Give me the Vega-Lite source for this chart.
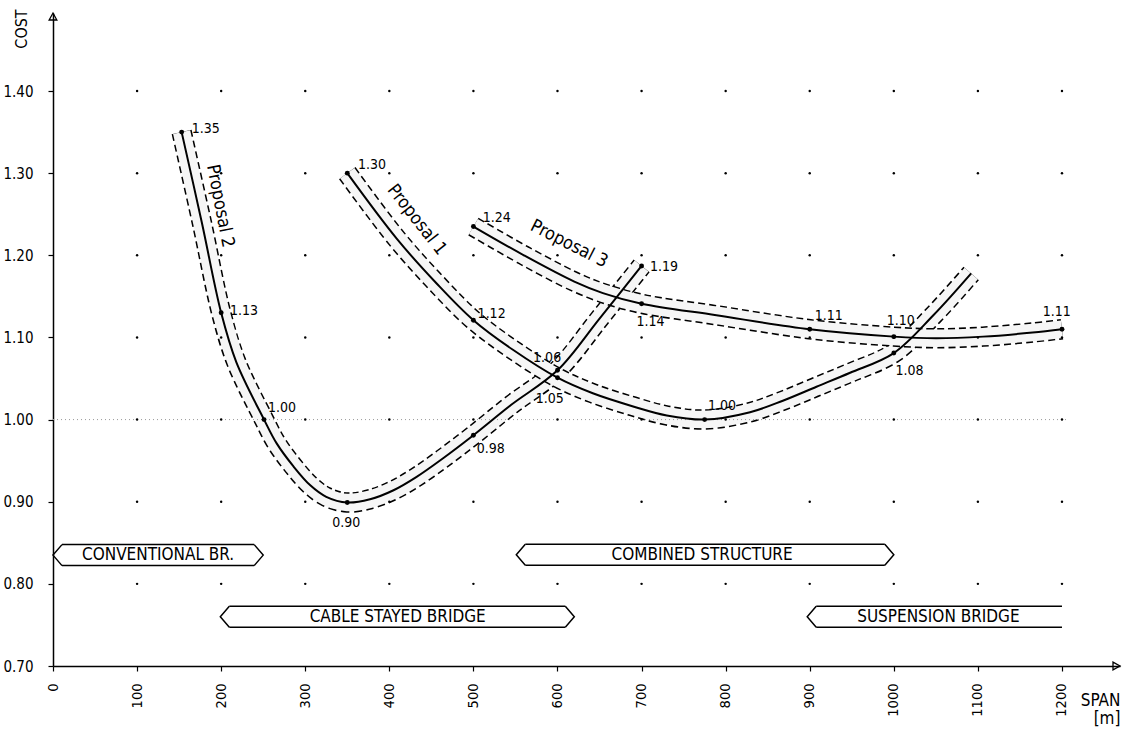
{
  "$schema": "https://vega.github.io/schema/vega-lite/v6.json",
  "width": 1067,
  "height": 653,
  "autosize": {"type": "none"},
  "padding": {"left": 53, "top": 13, "right": 7, "bottom": 65},
  "background": "white",
  "config": {
    "view": {"stroke": null},
    "font": "DejaVu Sans Condensed, Liberation Sans Narrow, sans-serif"
  },
  "datasets": {
    "curves": [
      {"p": "P2", "x": 153, "y": 1.35, "dot": 1},
      {"p": "P2", "x": 177, "y": 1.24, "dot": 0},
      {"p": "P2", "x": 200, "y": 1.13, "dot": 1},
      {"p": "P2", "x": 218, "y": 1.07, "dot": 0},
      {"p": "P2", "x": 251, "y": 1.0, "dot": 1},
      {"p": "P2", "x": 266, "y": 0.971, "dot": 0},
      {"p": "P2", "x": 286, "y": 0.943, "dot": 0},
      {"p": "P2", "x": 306, "y": 0.92, "dot": 0},
      {"p": "P2", "x": 325, "y": 0.906, "dot": 0},
      {"p": "P2", "x": 350, "y": 0.899, "dot": 1},
      {"p": "P2", "x": 377, "y": 0.903, "dot": 0},
      {"p": "P2", "x": 405, "y": 0.914, "dot": 0},
      {"p": "P2", "x": 432, "y": 0.93, "dot": 0},
      {"p": "P2", "x": 464, "y": 0.953, "dot": 0},
      {"p": "P2", "x": 500, "y": 0.981, "dot": 1},
      {"p": "P2", "x": 545, "y": 1.018, "dot": 0},
      {"p": "P2", "x": 600, "y": 1.06, "dot": 1},
      {"p": "P2", "x": 650, "y": 1.123, "dot": 0},
      {"p": "P2", "x": 700, "y": 1.187, "dot": 1},
      {"p": "P1", "x": 350, "y": 1.3, "dot": 1},
      {"p": "P1", "x": 409, "y": 1.22, "dot": 0},
      {"p": "P1", "x": 456, "y": 1.166, "dot": 0},
      {"p": "P1", "x": 500, "y": 1.121, "dot": 1},
      {"p": "P1", "x": 547, "y": 1.085, "dot": 0},
      {"p": "P1", "x": 600, "y": 1.051, "dot": 1},
      {"p": "P1", "x": 642, "y": 1.032, "dot": 0},
      {"p": "P1", "x": 690, "y": 1.016, "dot": 0},
      {"p": "P1", "x": 730, "y": 1.005, "dot": 0},
      {"p": "P1", "x": 775, "y": 1.0, "dot": 1},
      {"p": "P1", "x": 829, "y": 1.009, "dot": 0},
      {"p": "P1", "x": 868, "y": 1.023, "dot": 0},
      {"p": "P1", "x": 908, "y": 1.04, "dot": 0},
      {"p": "P1", "x": 948, "y": 1.057, "dot": 0},
      {"p": "P1", "x": 1000, "y": 1.081, "dot": 1},
      {"p": "P1", "x": 1047, "y": 1.127, "dot": 0},
      {"p": "P1", "x": 1092, "y": 1.178, "dot": 0},
      {"p": "P3", "x": 500, "y": 1.235, "dot": 1},
      {"p": "P3", "x": 560, "y": 1.2, "dot": 0},
      {"p": "P3", "x": 620, "y": 1.168, "dot": 0},
      {"p": "P3", "x": 654, "y": 1.154, "dot": 0},
      {"p": "P3", "x": 700, "y": 1.141, "dot": 1},
      {"p": "P3", "x": 789, "y": 1.127, "dot": 0},
      {"p": "P3", "x": 900, "y": 1.11, "dot": 1},
      {"p": "P3", "x": 1000, "y": 1.101, "dot": 1},
      {"p": "P3", "x": 1050, "y": 1.099, "dot": 0},
      {"p": "P3", "x": 1106, "y": 1.101, "dot": 0},
      {"p": "P3", "x": 1165, "y": 1.106, "dot": 0},
      {"p": "P3", "x": 1200, "y": 1.11, "dot": 1}
    ],
    "grid": [
      {"x": 100, "y": 0.8}, {"x": 100, "y": 0.9}, {"x": 100, "y": 1.0}, {"x": 100, "y": 1.1}, {"x": 100, "y": 1.2}, {"x": 100, "y": 1.3}, {"x": 100, "y": 1.4},
      {"x": 200, "y": 0.8}, {"x": 200, "y": 0.9}, {"x": 200, "y": 1.0}, {"x": 200, "y": 1.1}, {"x": 200, "y": 1.2}, {"x": 200, "y": 1.3}, {"x": 200, "y": 1.4},
      {"x": 300, "y": 0.8}, {"x": 300, "y": 0.9}, {"x": 300, "y": 1.0}, {"x": 300, "y": 1.1}, {"x": 300, "y": 1.2}, {"x": 300, "y": 1.3}, {"x": 300, "y": 1.4},
      {"x": 400, "y": 0.8}, {"x": 400, "y": 0.9}, {"x": 400, "y": 1.0}, {"x": 400, "y": 1.1}, {"x": 400, "y": 1.2}, {"x": 400, "y": 1.3}, {"x": 400, "y": 1.4},
      {"x": 500, "y": 0.8}, {"x": 500, "y": 0.9}, {"x": 500, "y": 1.0}, {"x": 500, "y": 1.1}, {"x": 500, "y": 1.2}, {"x": 500, "y": 1.3}, {"x": 500, "y": 1.4},
      {"x": 600, "y": 0.8}, {"x": 600, "y": 0.9}, {"x": 600, "y": 1.0}, {"x": 600, "y": 1.1}, {"x": 600, "y": 1.2}, {"x": 600, "y": 1.3}, {"x": 600, "y": 1.4},
      {"x": 700, "y": 0.8}, {"x": 700, "y": 0.9}, {"x": 700, "y": 1.0}, {"x": 700, "y": 1.1}, {"x": 700, "y": 1.2}, {"x": 700, "y": 1.3}, {"x": 700, "y": 1.4},
      {"x": 800, "y": 0.8}, {"x": 800, "y": 0.9}, {"x": 800, "y": 1.0}, {"x": 800, "y": 1.1}, {"x": 800, "y": 1.2}, {"x": 800, "y": 1.3}, {"x": 800, "y": 1.4},
      {"x": 900, "y": 0.8}, {"x": 900, "y": 0.9}, {"x": 900, "y": 1.0}, {"x": 900, "y": 1.1}, {"x": 900, "y": 1.2}, {"x": 900, "y": 1.3}, {"x": 900, "y": 1.4},
      {"x": 1000, "y": 0.8}, {"x": 1000, "y": 0.9}, {"x": 1000, "y": 1.0}, {"x": 1000, "y": 1.1}, {"x": 1000, "y": 1.2}, {"x": 1000, "y": 1.3}, {"x": 1000, "y": 1.4},
      {"x": 1100, "y": 0.8}, {"x": 1100, "y": 0.9}, {"x": 1100, "y": 1.0}, {"x": 1100, "y": 1.1}, {"x": 1100, "y": 1.2}, {"x": 1100, "y": 1.3}, {"x": 1100, "y": 1.4},
      {"x": 1200, "y": 0.8}, {"x": 1200, "y": 0.9}, {"x": 1200, "y": 1.0}, {"x": 1200, "y": 1.1}, {"x": 1200, "y": 1.2}, {"x": 1200, "y": 1.3}, {"x": 1200, "y": 1.4}
    ],
    "vals": [
      {"x": 165, "y": 1.349, "t": "1.35"},
      {"x": 210.5, "y": 1.127, "t": "1.13"},
      {"x": 255.6, "y": 1.009, "t": "1.00"},
      {"x": 332, "y": 0.869, "t": "0.90"},
      {"x": 504, "y": 0.959, "t": "0.98"},
      {"x": 571, "y": 1.07, "t": "1.06"},
      {"x": 710, "y": 1.181, "t": "1.19"},
      {"x": 362.7, "y": 1.305, "t": "1.30"},
      {"x": 505, "y": 1.124, "t": "1.12"},
      {"x": 574, "y": 1.02, "t": "1.05"},
      {"x": 779, "y": 1.012, "t": "1.00"},
      {"x": 1002, "y": 1.054, "t": "1.08"},
      {"x": 511, "y": 1.2405, "t": "1.24"},
      {"x": 694, "y": 1.114, "t": "1.14"},
      {"x": 906, "y": 1.121, "t": "1.11"},
      {"x": 991.7, "y": 1.115, "t": "1.10"},
      {"x": 1177, "y": 1.126, "t": "1.11"}
    ],
    "props": [
      {"t": "Proposal 2", "x": 198.5, "y": 1.26},
      {"t": "Proposal 1", "x": 432.4, "y": 1.243},
      {"t": "Proposal 3", "x": 613.8, "y": 1.2135}
    ],
    "boxes": [
      {"t": "CONVENTIONAL BR.", "x": 0, "x2": 250, "y": 0.835, "xm": 125, "r": true},
      {"t": "CABLE STAYED BRIDGE", "x": 199, "x2": 620, "y": 0.76, "xm": 410, "r": true},
      {"t": "COMBINED STRUCTURE", "x": 551, "x2": 1000, "y": 0.8355, "xm": 772, "r": true},
      {"t": "SUSPENSION BRIDGE", "x": 897, "x2": 1200, "y": 0.76, "xm": 1053, "r": false}
    ],
    "ref": [{"x": 0, "x2": 1205, "y": 1.0}]
  },
  "encoding": {
    "x": {
      "field": "x", "type": "quantitative",
      "scale": {"domain": [0, 1269], "nice": false, "zero": false},
      "axis": {
        "title": ["SPAN", "[m]"],
        "values": [0, 100, 200, 300, 400, 500, 600, 700, 800, 900, 1000, 1100, 1200],
        "format": "d",
        "labelAngle": -90, "labelAlign": "right", "labelBaseline": "middle",
        "labelFlush": false, "labelOverlap": false, "labelPadding": 12,
        "labelFontSize": 14.5, "labelColor": "black",
        "tickColor": "black", "tickSize": 5, "tickWidth": 1.2,
        "domainColor": "black", "domainWidth": 1.5, "grid": false,
        "titleFontSize": 17, "titleFontWeight": "normal", "titleColor": "black",
        "titleAlign": "right", "titleBaseline": "top", "titleAngle": 0,
        "titleX": 1067, "titleY": 26, "titleLineHeight": 18
      }
    },
    "y": {
      "field": "y", "type": "quantitative",
      "scale": {"domain": [0.7, 1.495], "nice": false, "zero": false},
      "axis": {
        "title": "COST",
        "values": [0.7, 0.8, 0.9, 1.0, 1.1, 1.2, 1.3, 1.4],
        "format": ".2f",
        "labelFontSize": 15, "labelPadding": 15, "labelColor": "black",
        "tickColor": "black", "tickSize": 5, "tickWidth": 1.2,
        "domainColor": "black", "domainWidth": 1.5, "grid": false,
        "titleFontSize": 16, "titleFontWeight": "normal", "titleColor": "black",
        "titleAngle": -90, "titleAlign": "center", "titleBaseline": "middle",
        "titleX": -31.5, "titleY": 15.5
      }
    }
  },
  "layer": [
    {
      "data": {"name": "curves"},
      "transform": [{"filter": "datum.p == 'P2'"}],
      "layer": [
        {"mark": {"type": "line", "interpolate": "catmull-rom", "color": "black", "strokeWidth": 20.5, "strokeDash": [7, 4], "strokeCap": "butt"}, "encoding": {}},
        {"mark": {"type": "line", "interpolate": "catmull-rom", "color": "#f6f6f6", "strokeWidth": 17.5, "strokeCap": "butt"}, "encoding": {}}
      ]
    },
    {
      "data": {"name": "curves"},
      "transform": [{"filter": "datum.p == 'P1'"}],
      "layer": [
        {"mark": {"type": "line", "interpolate": "catmull-rom", "color": "black", "strokeWidth": 20.5, "strokeDash": [7, 4], "strokeCap": "butt"}, "encoding": {}},
        {"mark": {"type": "line", "interpolate": "catmull-rom", "color": "#f6f6f6", "strokeWidth": 17.5, "strokeCap": "butt"}, "encoding": {}}
      ]
    },
    {
      "data": {"name": "curves"},
      "transform": [{"filter": "datum.p == 'P3'"}],
      "layer": [
        {"mark": {"type": "line", "interpolate": "catmull-rom", "color": "black", "strokeWidth": 20.5, "strokeDash": [7, 4], "strokeCap": "butt"}, "encoding": {}},
        {"mark": {"type": "line", "interpolate": "catmull-rom", "color": "#f6f6f6", "strokeWidth": 17.5, "strokeCap": "butt"}, "encoding": {}}
      ]
    },
    {
      "data": {"name": "ref"},
      "mark": {"type": "rule", "color": "#999999", "strokeDash": [1, 3], "strokeWidth": 1},
      "encoding": {"x2": {"field": "x2"}}
    },
    {
      "data": {"name": "grid"},
      "mark": {"type": "point", "filled": true, "color": "black", "size": 6, "opacity": 1},
      "encoding": {}
    },
    {
      "data": {"name": "curves"},
      "mark": {"type": "line", "interpolate": "catmull-rom", "color": "black", "strokeWidth": 2},
      "encoding": {"detail": {"field": "p"}}
    },
    {
      "data": {"name": "curves"},
      "transform": [{"filter": "datum.dot == 1"}],
      "mark": {"type": "point", "filled": true, "color": "black", "size": 24, "opacity": 1},
      "encoding": {}
    },
    {
      "data": {"name": "vals"},
      "mark": {"type": "text", "align": "left", "baseline": "alphabetic", "fontSize": 14, "color": "black"},
      "encoding": {"text": {"field": "t"}}
    },
    {
      "data": {"name": "props"},
      "transform": [{"filter": "datum.t == 'Proposal 2'"}],
      "mark": {"type": "text", "align": "center", "baseline": "middle", "fontSize": 18, "angle": 79, "color": "black"},
      "encoding": {"text": {"field": "t"}}
    },
    {
      "data": {"name": "props"},
      "transform": [{"filter": "datum.t == 'Proposal 1'"}],
      "mark": {"type": "text", "align": "center", "baseline": "middle", "fontSize": 18, "angle": 52, "color": "black"},
      "encoding": {"text": {"field": "t"}}
    },
    {
      "data": {"name": "props"},
      "transform": [{"filter": "datum.t == 'Proposal 3'"}],
      "mark": {"type": "text", "align": "center", "baseline": "middle", "fontSize": 18, "angle": 27, "color": "black"},
      "encoding": {"text": {"field": "t"}}
    },
    {
      "data": {"name": "boxes"},
      "transform": [{"filter": "datum.r"}],
      "layer": [
        {"mark": {"type": "rule", "color": "black", "strokeWidth": 1.5, "xOffset": 9, "x2Offset": -9, "yOffset": -10.5}, "encoding": {"x2": {"field": "x2"}}},
        {"mark": {"type": "rule", "color": "black", "strokeWidth": 1.5, "xOffset": 9, "x2Offset": -9, "yOffset": 10.5}, "encoding": {"x2": {"field": "x2"}}},
        {"mark": {"type": "point", "shape": "M -0.857,-1 L 0,0 L -0.857,1", "size": 441, "filled": false, "color": "black", "strokeWidth": 1.5, "opacity": 1}, "encoding": {"x": {"field": "x2", "type": "quantitative"}}}
      ]
    },
    {
      "data": {"name": "boxes"},
      "transform": [{"filter": "!datum.r"}],
      "layer": [
        {"mark": {"type": "rule", "color": "black", "strokeWidth": 1.5, "xOffset": 9, "yOffset": -10.5}, "encoding": {"x2": {"field": "x2"}}},
        {"mark": {"type": "rule", "color": "black", "strokeWidth": 1.5, "xOffset": 9, "yOffset": 10.5}, "encoding": {"x2": {"field": "x2"}}}
      ]
    },
    {
      "data": {"name": "boxes"},
      "mark": {"type": "point", "shape": "M 0.857,-1 L 0,0 L 0.857,1", "size": 441, "filled": false, "color": "black", "strokeWidth": 1.5, "opacity": 1},
      "encoding": {}
    },
    {
      "data": {"name": "boxes"},
      "mark": {"type": "text", "align": "center", "baseline": "middle", "fontSize": 17, "color": "black"},
      "encoding": {"x": {"field": "xm", "type": "quantitative"}, "text": {"field": "t"}}
    },
    {
      "data": {"values": [{"x": 0, "y": 1.495}]},
      "mark": {"type": "point", "shape": "M -0.55,1 L 0,0 L 0.55,1 Z", "size": 196, "filled": false, "color": "black", "strokeWidth": 1.3, "opacity": 1},
      "encoding": {}
    },
    {
      "data": {"values": [{"x": 1269, "y": 0.7}]},
      "mark": {"type": "point", "shape": "M -1,-0.55 L 0,0 L -1,0.55 Z", "size": 196, "filled": false, "color": "black", "strokeWidth": 1.3, "opacity": 1},
      "encoding": {}
    }
  ]
}
